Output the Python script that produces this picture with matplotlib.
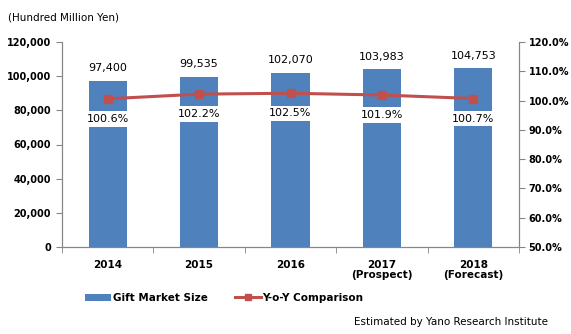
import matplotlib.pyplot as plt
from matplotlib.ticker import FuncFormatter, MultipleLocator

# data
years = ['2014', '2015', '2016', '2017\n(Prospect)', '2018\n(Forecast)']
market_size = [97400, 99535, 102070, 103983, 104753]
yoy = [100.6, 102.2, 102.5, 101.9, 100.7]

bar_color = '#4F81BD'
line_color = '#C0504D'
axis_color = '#868686'

plt.rcParams['font.family'] = ['DejaVu Sans']

fig = plt.figure(figsize=(5.71, 3.34), dpi=100)
ax = fig.add_axes([62 / 571, 1 - 247 / 334, (519 - 62) / 571, (247 - 42) / 334])
x = list(range(len(years)))

ax.bar(x, market_size, width=0.42, color=bar_color, label='Gift Market Size', zorder=2)
ax.set_xlim(-0.5, len(years) - 0.5)
ax.set_ylim(0, 120000)
ax.yaxis.set_major_locator(MultipleLocator(20000))
ax.yaxis.set_major_formatter(FuncFormatter(lambda v, p: f'{int(v):,}'))

ax.set_xticks(x)
ax.set_xticklabels(years, fontsize=7.5, fontweight='bold', linespacing=1.1)
ax.set_xticks([i - 0.5 for i in range(len(years) + 1)], minor=True)
ax.tick_params(axis='x', which='major', length=0, pad=9)
ax.tick_params(axis='x', which='minor', length=4, color=axis_color, direction='out')
ax.tick_params(axis='y', labelsize=7, length=4, color=axis_color, pad=4)
for lbl in ax.get_yticklabels():
    lbl.set_fontweight('bold')

for s in ['left', 'bottom', 'right']:
    ax.spines[s].set_color(axis_color)
ax.spines['top'].set_visible(False)

for xi, v in zip(x, market_size):
    ax.annotate(f'{v:,}', (xi, v), xytext=(0, 9), textcoords='offset points',
                ha='center', va='center', fontsize=8)

ax2 = ax.twinx()
ax2.plot(x, yoy, color=line_color, linewidth=2.2, marker='s', markersize=6,
         label='Y-o-Y Comparison', zorder=3)
ax2.set_ylim(50, 120)
ax2.yaxis.set_major_locator(MultipleLocator(10))
ax2.yaxis.set_major_formatter(FuncFormatter(lambda v, p: f'{v:.1f}%'))
ax2.tick_params(axis='y', labelsize=7, length=4, color=axis_color, pad=3)
for lbl in ax2.get_yticklabels():
    lbl.set_fontweight('bold')
for s in ['left', 'bottom', 'right']:
    ax2.spines[s].set_color(axis_color)
ax2.spines['top'].set_visible(False)

for xi, v in zip(x, yoy):
    ax2.annotate(f'{v:.1f}%', (xi, v), xytext=(0, -14.5), textcoords='offset points',
                 ha='center', va='center', fontsize=8,
                 bbox=dict(boxstyle='square,pad=0.25', fc='white', ec='none'))

h1, l1 = ax.get_legend_handles_labels()
h2, l2 = ax2.get_legend_handles_labels()
fig.legend(h1 + h2, l1 + l2, loc='center left', bbox_to_anchor=(76 / 571, 1 - 298 / 334),
           ncol=2, frameon=False, prop={'weight': 'bold', 'size': 7.5},
           handlelength=2.5, handleheight=0.7, columnspacing=2.6, handletextpad=0.15,
           markerscale=0.7)

fig.text(8 / 571, 1 - 17 / 334, '(Hundred Million Yen)', fontsize=7.5, va='center', ha='left')
fig.text(548 / 571, 1 - 322 / 334, 'Estimated by Yano Research Institute', fontsize=7.5,
         va='center', ha='right')

fig.savefig('out.png', dpi=100)
